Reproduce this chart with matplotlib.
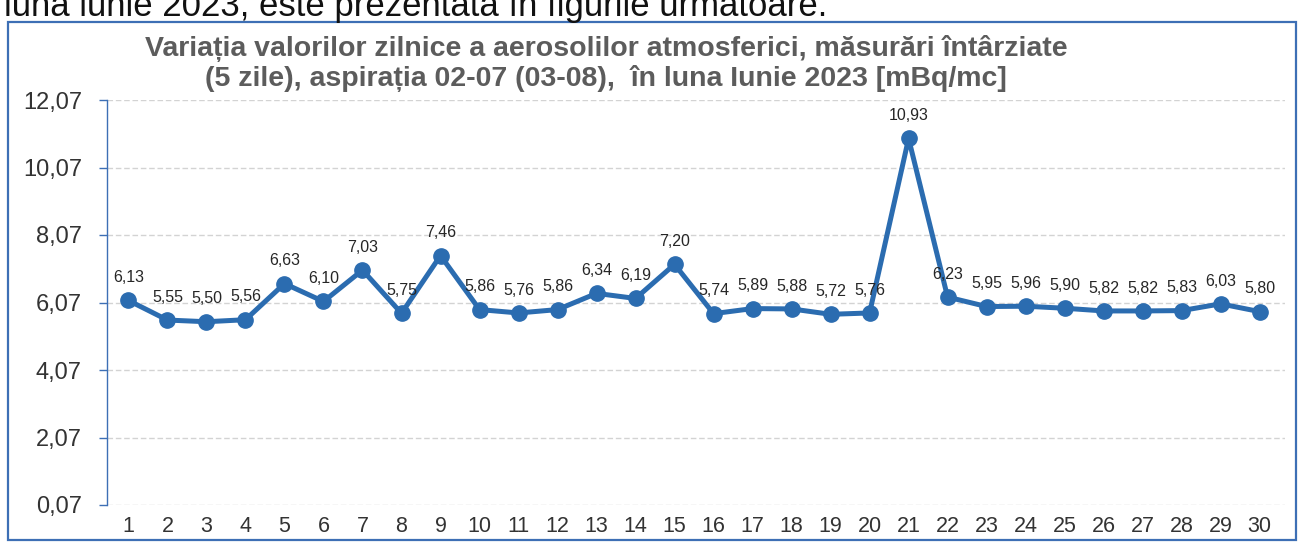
import matplotlib.pyplot as plt
from matplotlib.patches import Rectangle

days = list(range(1, 31))
values = [6.13, 5.55, 5.50, 5.56, 6.63, 6.10, 7.03, 5.75, 7.46, 5.86,
          5.76, 5.86, 6.34, 6.19, 7.20, 5.74, 5.89, 5.88, 5.72, 5.76,
          10.93, 6.23, 5.95, 5.96, 5.90, 5.82, 5.82, 5.83, 6.03, 5.80]
y_ticks = [0.07, 2.07, 4.07, 6.07, 8.07, 10.07, 12.07]

title_lines = ["Variația valorilor zilnice a aerosolilor atmosferici, măsurări întârziate",
               "(5 zile), aspirația 02-07 (03-08),  în luna Iunie 2023 [mBq/mc]"]
top_text = "luna iunie 2023, este prezentată în figurile următoare."

plt.rcParams['font.family'] = ['Liberation Sans', 'DejaVu Sans']

blue = '#2b6cb0'
fig = plt.figure(figsize=(12.98, 5.45), dpi=100)

# frame of the scanned figure and the text line above it
fig.patches.append(Rectangle((8 / 1298, 5 / 545), 1288 / 1298, 518 / 545,
                             transform=fig.transFigure, fill=False,
                             edgecolor='#3d6fb5', linewidth=1.6))
fig.text(4 / 1298, 1 - 16 / 545, top_text, fontsize=25, color='#111111',
         va='baseline', ha='left')

ax = fig.add_axes([107 / 1298, 1 - 505 / 545, 1178 / 1298, 405 / 545])
ax.plot(days, values, color=blue, linewidth=3.6, marker='o', markersize=11,
        solid_joinstyle='round', zorder=3)
for d, v in zip(days, values):
    ax.annotate(f"{v:.2f}".replace('.', ','), (d, v), xytext=(0, 11),
                textcoords='offset points', ha='center', va='bottom',
                fontsize=11.5, color='#262626', zorder=4)

ax.set_xlim(0.45, 30.65)
ax.set_ylim(0.07, 12.07)
ax.set_yticks(y_ticks)
ax.set_yticklabels([f"{t:.2f}".replace('.', ',') for t in y_ticks])
ax.set_xticks(days)
ax.set_xticklabels([str(d) for d in days])
ax.tick_params(axis='y', labelsize=17, colors='#3d6fb5', labelcolor='#333333',
               length=6, width=1, pad=12)
ax.tick_params(axis='x', labelsize=15.5, length=0, labelcolor='#333333', pad=8)
ax.grid(axis='y', color='#d3d3d3', linestyle=(0, (4, 2)), linewidth=1)
for side in ['top', 'right', 'bottom']:
    ax.spines[side].set_visible(False)
ax.spines['left'].set_color('#3d6fb5')
ax.spines['left'].set_linewidth(1)

for i, line in enumerate(title_lines):
    fig.text(606 / 1298, 1 - (56 + 30 * i) / 545, line, fontsize=20.5,
             fontweight='bold', color='#5c5c5c', ha='center', va='baseline')

plt.savefig("out.png", dpi=100)
